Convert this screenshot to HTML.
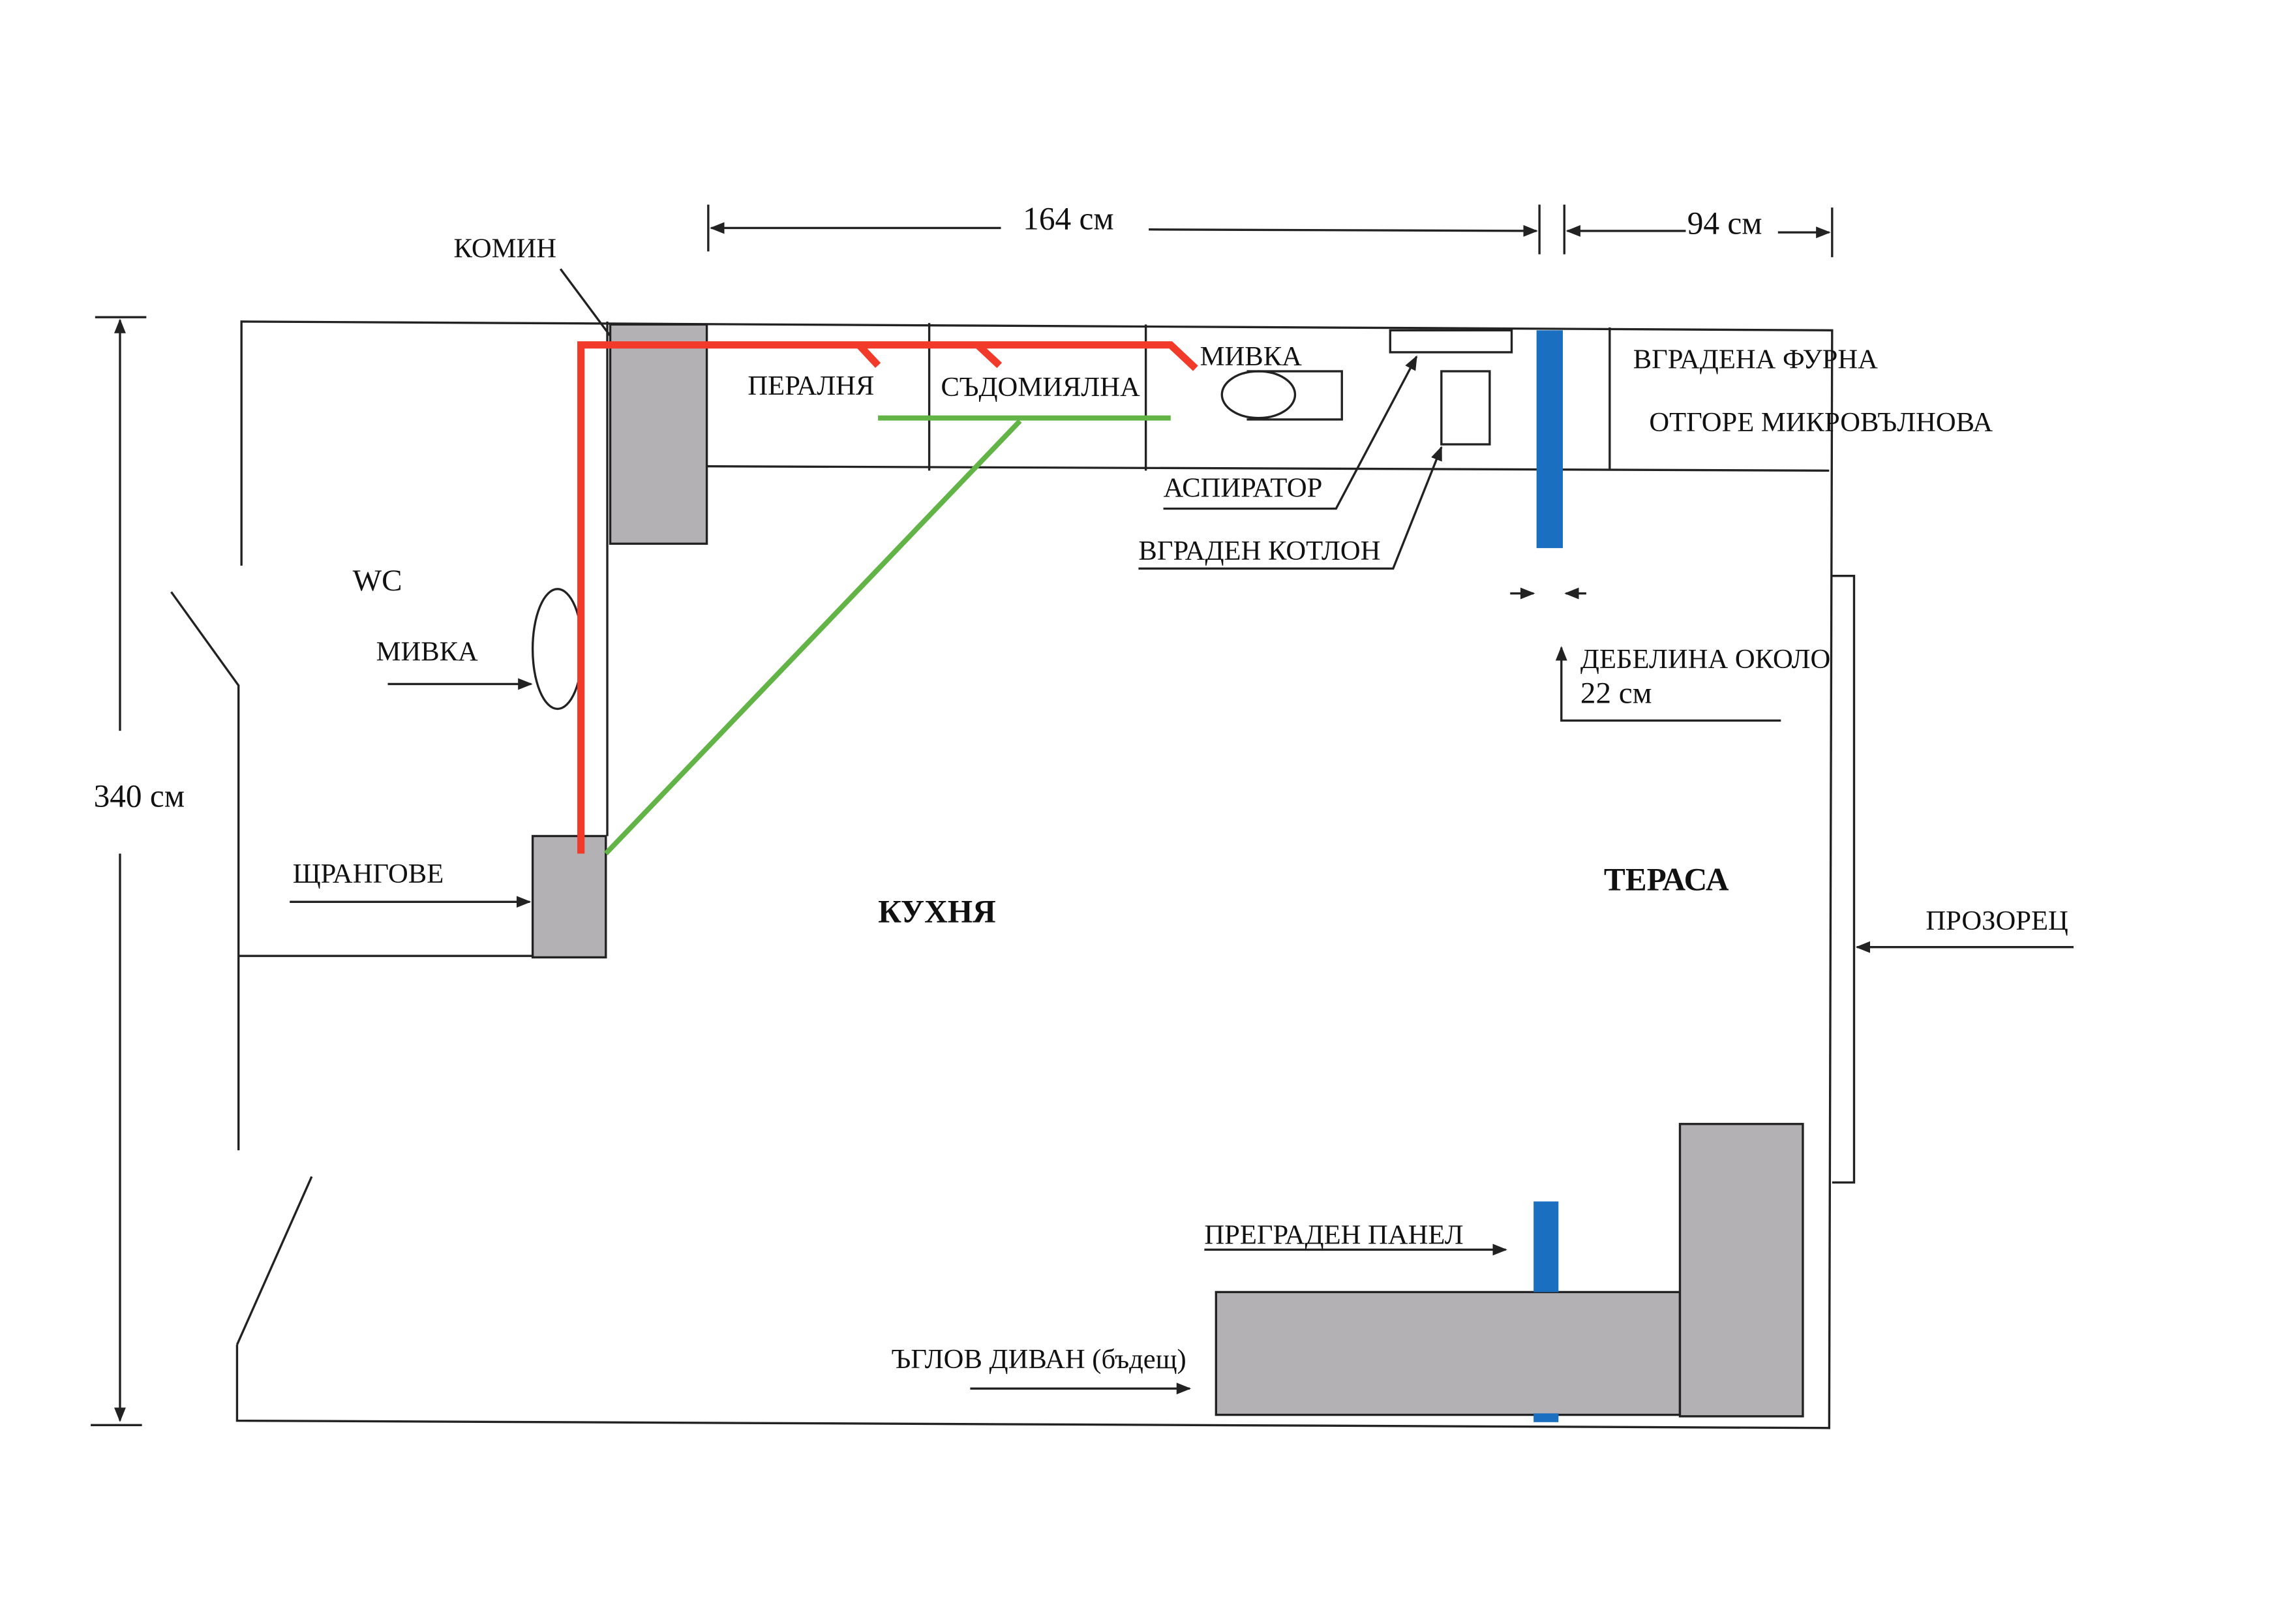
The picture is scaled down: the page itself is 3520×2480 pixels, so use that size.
<!DOCTYPE html>
<html><head><meta charset="utf-8"><style>
html,body{margin:0;padding:0;background:#fff;}
svg{display:block;}
text{font-family:"Liberation Serif",serif;fill:#111;}
</style></head><body>
<svg width="3520" height="2480" viewBox="0 -2 1569 1107" preserveAspectRatio="none" xmlns="http://www.w3.org/2000/svg">
<defs>
<marker id="a" markerWidth="10" markerHeight="8" refX="9" refY="4" orient="auto" markerUnits="userSpaceOnUse"><path d="M0,0 L10,4 L0,8 z" fill="#222"/></marker>
</defs>
<rect y="-5" width="1569" height="1115" fill="#fff"/>
<g stroke="#222" stroke-width="1.5" fill="none">
<path d="M165,385 L165,218 L1252,224 L1250,975 L162,970 L162,918"/>
<path d="M117,403 L163,467 L163,785"/>
<path d="M213,803 L162,918"/>
<path d="M163,652 L365,652"/>
<path d="M415,218 L415,570"/>
<path d="M483,317 L1250,320"/>
<path d="M635,219 L635,320 M783,220 L783,320 M1100,222 L1100,320"/>
<ellipse cx="860" cy="268" rx="25" ry="16"/>
<path d="M852,252 L917,252 L917,285 L852,285"/>
<rect x="950" y="224" width="83" height="15"/>
<rect x="985" y="252" width="33" height="50"/>
<ellipse cx="381" cy="442" rx="17" ry="41"/>
<path d="M1252,392 L1267,392 L1267,807 L1252,807"/>
<path d="M484,138 L484,170 M1052,138 L1052,172 M1069,138 L1069,172 M1252,140 L1252,174"/>
<path d="M684,154 L486,154" marker-end="url(#a)"/>
<path d="M785,155 L1050,156" marker-end="url(#a)"/>
<path d="M1152,156 L1071,156" marker-end="url(#a)"/>
<path d="M1215,157 L1250,157" marker-end="url(#a)"/>
<path d="M65,215 L100,215 M62,973 L97,973"/>
<path d="M82,498 L82,217" marker-end="url(#a)"/>
<path d="M82,582 L82,970" marker-end="url(#a)"/>
<path d="M383,182 L432,248" marker-end="url(#a)"/>
<path d="M265,466 L363,466" marker-end="url(#a)"/>
<path d="M198,615 L362,615" marker-end="url(#a)"/>
<path d="M795,346 L913,346 L968,242" marker-end="url(#a)"/>
<path d="M778,387 L952,387 L985,304" marker-end="url(#a)"/>
<path d="M1032,404 L1048,404" marker-end="url(#a)"/>
<path d="M1084,404 L1070,404" marker-end="url(#a)"/>
<path d="M1217,491 L1067,491 L1067,441" marker-end="url(#a)"/>
<path d="M1417,646 L1269,646" marker-end="url(#a)"/>
<path d="M823,853 L1029,853" marker-end="url(#a)"/>
<path d="M663,948 L813,948" marker-end="url(#a)"/>
</g>
<g fill="#b3b1b4" stroke="#222" stroke-width="1.5">
<rect x="417" y="220" width="66" height="150"/>
<rect x="364" y="570" width="50" height="83"/>
<rect x="831" y="882" width="317" height="84"/>
<rect x="1148" y="767" width="84" height="200"/>
</g>
<g fill="#1a6fc0">
<rect x="1050" y="224" width="18" height="149"/>
<rect x="1048" y="820" width="17" height="62"/>
<rect x="1048" y="965" width="17" height="6"/>
</g>
<g stroke="#f23a2a" stroke-width="5" fill="none">
<path d="M397,582 L397,234 L800,234 L817,250"/>
<path d="M587,234 L600,248 M668,234 L683,248"/>
</g>
<g stroke="#62b446" stroke-width="3.5" fill="none">
<path d="M600,284 L800,284"/>
<path d="M697,286 L414,582"/>
</g>
<g font-size="19">
<text x="310" y="174">КОМИН</text>
<text x="511" y="268">ПЕРАЛНЯ</text>
<text x="643" y="269">СЪДОМИЯЛНА</text>
<text x="820" y="248">МИВКА</text>
<text x="1116" y="250">ВГРАДЕНА ФУРНА</text>
<text x="1127" y="293">ОТГОРЕ  МИКРОВЪЛНОВА</text>
<text x="795" y="338">АСПИРАТОР</text>
<text x="778" y="381">ВГРАДЕН КОТЛОН</text>
<text x="1080" y="455">ДЕБЕЛИНА ОКОЛО</text>
<text x="1080" y="479" font-size="21">22 см</text>
<text x="241" y="402" font-size="21">WC</text>
<text x="257" y="450">МИВКА</text>
<text x="200" y="602">ЩРАНГОВЕ</text>
<text x="1316" y="634">ПРОЗОРЕЦ</text>
<text x="823" y="849">ПРЕГРАДЕН ПАНЕЛ</text>
<text x="609" y="934">ЪГЛОВ ДИВАН (бъдещ)</text>
<text x="600" y="629" font-weight="bold" font-size="22">КУХНЯ</text>
<text x="1096" y="607" font-weight="bold" font-size="22">ТЕРАСА</text>
<text x="699" y="155" font-size="22">164 см</text>
<text x="1153" y="158" font-size="22">94 см</text>
<text x="64" y="550" font-size="22">340 см</text>
</g>
</svg>
</body></html>
